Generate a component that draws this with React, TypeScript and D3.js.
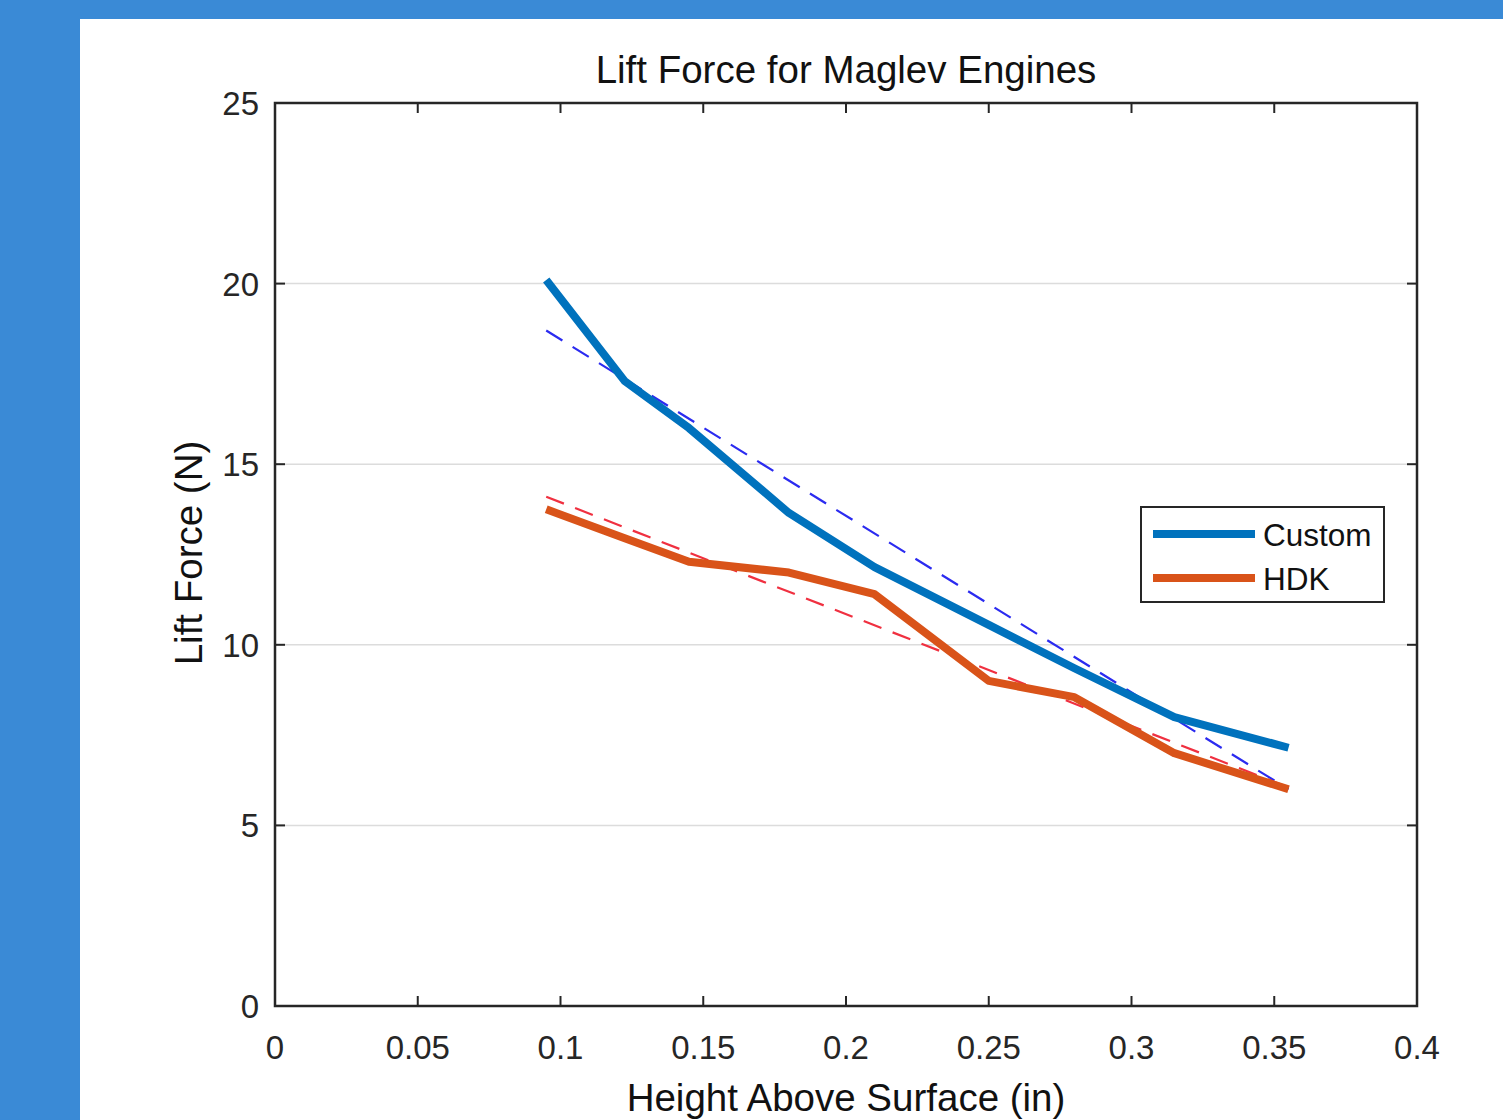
import React from 'react';
import * as d3 from 'd3';

const heights = [0.095, 0.1225, 0.145, 0.18, 0.21, 0.25, 0.28, 0.315, 0.355];
const customForce = [20.1, 17.3, 16.0, 13.65, 12.15, 10.55, 9.35, 8.0, 7.15];
const hdkForce = [13.75, 12.95, 12.3, 12.0, 11.4, 9.0, 8.55, 7.0, 6.0];
const customFit = [[0.095, 18.7], [0.355, 6.0]];
const hdkFit = [[0.095, 14.1], [0.355, 6.05]];
const xTicks = [0, 0.05, 0.1, 0.15, 0.2, 0.25, 0.3, 0.35, 0.4];
const yTicks = [0, 5, 10, 15, 20, 25];
const seriesNames = ['Custom', 'HDK'];

const W = 1503;
const H = 1120;
const left = 275, right = 1417, top = 103, bottom = 1006;
const FONT = '"Liberation Sans", Arial, Helvetica, sans-serif';
const INK = '#262626';

const App = () => {
    const x = d3.scaleLinear().domain([0, 0.4]).range([left, right]);
    const y = d3.scaleLinear().domain([0, 25]).range([bottom, top]);

    const line = d3.line<[number, number]>()
        .x(d => x(d[0]))
        .y(d => y(d[1]));

    const customPts = heights.map((h, i) => [h, customForce[i]] as [number, number]);
    const hdkPts = heights.map((h, i) => [h, hdkForce[i]] as [number, number]);

    const colors = ['#0072BD', '#D95319'];
    const tickLen = 10;

    return (
        <svg width={W} height={H} style={{ position: 'absolute', left: 0, top: 0 }} fontFamily={FONT}>
            <rect x={0} y={0} width={W} height={H} fill="#3a8ad6" />
            <rect x={80} y={19} width={W - 80} height={H - 19} fill="#ffffff" />

            {/* grid */}
            {yTicks.filter(t => t > 0 && t < 25).map(t => (
                <line key={'g' + t} x1={left} x2={right} y1={y(t)} y2={y(t)} stroke="#dcdcdc" strokeWidth={1.5} />
            ))}

            {/* fits */}
            <path d={line(customFit as [number, number][]) || ''} fill="none" stroke="#2b2bf0" strokeWidth={2.2} strokeDasharray="19,12" />
            <path d={line(hdkFit as [number, number][]) || ''} fill="none" stroke="#f03040" strokeWidth={2.2} strokeDasharray="19,12" />

            {/* data */}
            <path d={line(customPts) || ''} fill="none" stroke={colors[0]} strokeWidth={8} strokeLinejoin="round" />
            <path d={line(hdkPts) || ''} fill="none" stroke={colors[1]} strokeWidth={8} strokeLinejoin="round" />

            {/* axes box */}
            <rect x={left} y={top} width={right - left} height={bottom - top} fill="none" stroke={INK} strokeWidth={2.5} />
            {xTicks.map(t => (
                <g key={'x' + t}>
                    <line x1={x(t)} x2={x(t)} y1={bottom} y2={bottom - tickLen} stroke={INK} strokeWidth={2} />
                    <line x1={x(t)} x2={x(t)} y1={top} y2={top + tickLen} stroke={INK} strokeWidth={2} />
                    <text x={x(t)} y={1059} textAnchor="middle" fontSize={33} fill={INK}>{String(t)}</text>
                </g>
            ))}
            {yTicks.map(t => (
                <g key={'y' + t}>
                    <line x1={left} x2={left + tickLen} y1={y(t)} y2={y(t)} stroke={INK} strokeWidth={2} />
                    <line x1={right} x2={right - tickLen} y1={y(t)} y2={y(t)} stroke={INK} strokeWidth={2} />
                    <text x={259} y={y(t) + 12} textAnchor="end" fontSize={33} fill={INK}>{String(t)}</text>
                </g>
            ))}

            {/* labels */}
            <text x={846} y={83} textAnchor="middle" fontSize={38.5} fill="#111">Lift Force for Maglev Engines</text>
            <text x={846} y={1111} textAnchor="middle" fontSize={38.5} fill="#111">Height Above Surface (in)</text>
            <text transform={`translate(202,553) rotate(-90)`} textAnchor="middle" fontSize={38.5} fill="#111">Lift Force (N)</text>

            {/* legend */}
            <rect x={1141} y={507} width={243} height={95} fill="#fff" stroke={INK} strokeWidth={2} />
            {seriesNames.map((name, i) => (
                <g key={name}>
                    <line x1={1153} x2={1255} y1={534 + i * 44} y2={534 + i * 44} stroke={colors[i]} strokeWidth={8} />
                    <text x={1263} y={546 + i * 44} fontSize={31.5} fill="#111">{name}</text>
                </g>
            ))}
        </svg>
    );
};

export default App;
